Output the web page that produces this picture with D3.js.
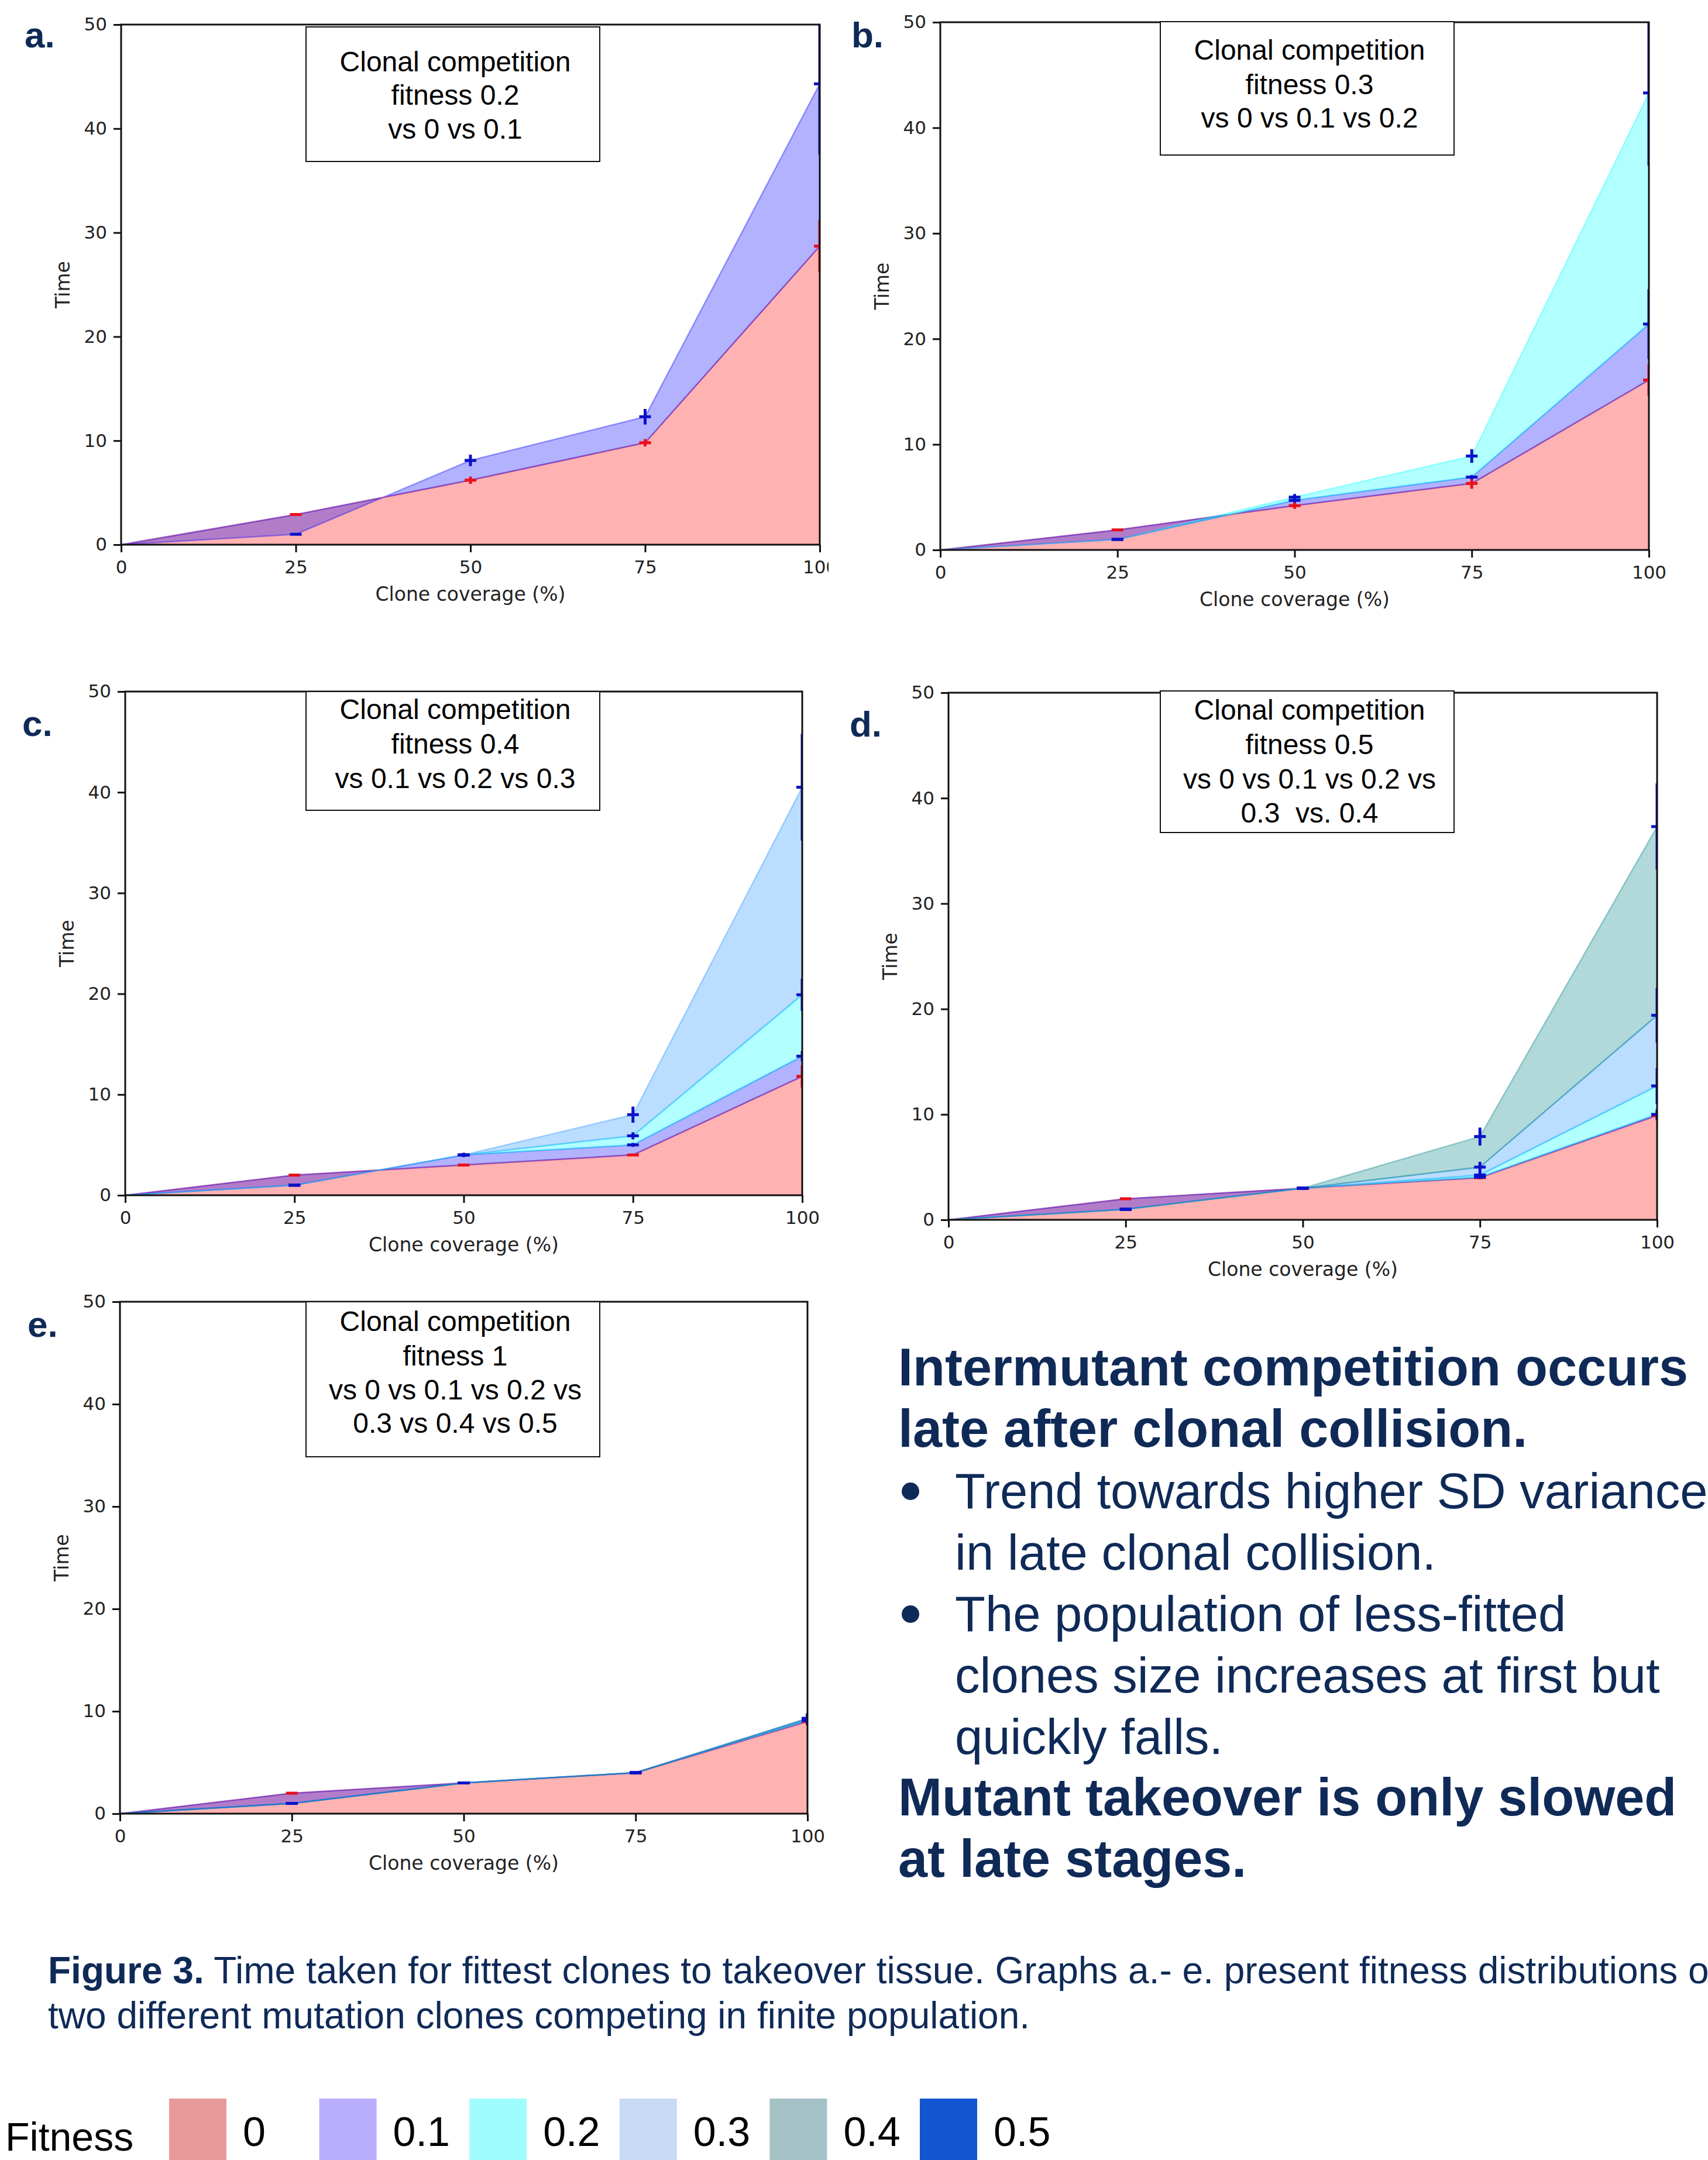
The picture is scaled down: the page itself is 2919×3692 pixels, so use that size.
<!DOCTYPE html>
<html>
<head>
<meta charset="utf-8">
<script src="https://cdn.jsdelivr.net/npm/d3@7"></script>
<style>
  html, body { margin: 0; padding: 0; background: #fff; }
  svg { display: block; }
</style>
</head>
<body>
<div id="wrapper"></div>
<script>
// x positions and axis ticks shared by every panel
const coverage = [0, 25, 50, 75, 100];
const yTicks = [0, 10, 20, 30, 40, 50];
const fitnessLevels = ["0", "0.1", "0.2", "0.3", "0.4", "0.5"];

// mean time per fitness series (rows follow fitnessLevels order)
const meansA = [
  [0, 2.9, 6.2, 9.8, 28.7],
  [0, 1.0, 8.1, 12.3, 44.3],
];
const sdA = [
  [0, 0.1, 0.35, 0.35, 2.5],
  [0, 0.1, 0.55, 0.75, 6.8],
];

const meansB = [
  [0, 1.9, 4.2, 6.3, 16.1],
  [0, 1.0, 4.7, 6.9, 21.4],
  [0, 1.0, 5.0, 8.9, 43.3],
];
const sdB = [
  [0, 0.1, 0.3, 0.5, 1.5],
  [0, 0.1, 0.2, 0.2, 3.3],
  [0, 0.1, 0.3, 0.65, 6.9],
];

const meansC = [
  [0, 2.0, 3.0, 4.0, 11.8],
  [0, 1.0, 4.0, 5.0, 13.8],
  [0, 1.0, 4.0, 5.9, 19.9],
  [0, 1.0, 4.0, 8.0, 40.5],
];
const sdC = [
  [0, 0.1, 0.1, 0.1, 1.1],
  [0, 0.1, 0.2, 0.2, 0.5],
  [0, 0.1, 0.2, 0.35, 1.6],
  [0, 0.1, 0.2, 0.8, 5.3],
];

const meansD = [
  [0, 2.0, 3.0, 4.0, 9.9],
  [0, 1.0, 3.0, 4.05, 10.0],
  [0, 1.0, 3.0, 4.25, 12.7],
  [0, 1.0, 3.0, 5.0, 19.4],
  [0, 1.0, 3.0, 7.9, 37.3],
];
const sdD = [
  [0, 0.1, 0.1, 0.15, 0.5],
  [0, 0.1, 0.1, 0.15, 0.5],
  [0, 0.1, 0.1, 0.3, 1.7],
  [0, 0.1, 0.1, 0.5, 2.6],
  [0, 0.1, 0.15, 0.85, 4.1],
];

const meansE = [
  [0, 2.0, 3.0, 4.0, 9.0],
  [0, 1.0, 3.0, 4.0, 9.1],
  [0, 1.0, 3.0, 4.0, 9.2],
  [0, 1.0, 3.0, 4.0, 9.2],
  [0, 1.0, 3.0, 4.0, 9.3],
  [0, 1.0, 3.0, 4.0, 9.3],
];
const sdE = [
  [0, 0.1, 0.1, 0.1, 0.4],
  [0, 0.1, 0.1, 0.1, 0.4],
  [0, 0.1, 0.1, 0.1, 0.5],
  [0, 0.1, 0.1, 0.1, 0.5],
  [0, 0.1, 0.1, 0.1, 0.5],
  [0, 0.1, 0.1, 0.1, 0.5],
];

const titleA = ["Clonal competition", "fitness 0.2", "vs 0 vs 0.1"];
const titleB = ["Clonal competition", "fitness 0.3", "vs 0 vs 0.1 vs 0.2"];
const titleC = ["Clonal competition", "fitness 0.4", "vs 0.1 vs 0.2 vs 0.3"];
const titleD = ["Clonal competition", "fitness 0.5", "vs 0 vs 0.1 vs 0.2 vs", "0.3  vs. 0.4"];
const titleE = ["Clonal competition", "fitness 1", "vs 0 vs 0.1 vs 0.2 vs", "0.3 vs 0.4 vs 0.5"];

const headlineTop = ["Intermutant competition occurs", "late after clonal collision."];
const bulletLines = [
  { text: "Trend towards higher SD variance", bullet: true },
  { text: "in late clonal collision.", bullet: false },
  { text: "The population of less-fitted", bullet: true },
  { text: "clones size increases at first but", bullet: false },
  { text: "quickly falls.", bullet: false },
];
const headlineBottom = ["Mutant takeover is only slowed", "at late stages."];
const captionBold = "Figure 3.";
const captionLines = [
  " Time taken for fittest clones to takeover tissue. Graphs a.- e. present fitness distributions of",
  "two different mutation clones competing in finite population.",
];

// styles
const fillColors = ["#ff0000", "#0000ff", "#00ffff", "#1e90ff", "#008080", "#1156d0"];
const legendColors = ["#e89a9a", "#b8aefc", "#a0fcfc", "#c8daf6", "#a4c2c6", "#1156d0"];
const navy = "#0f2a57";
const tickFont = "DejaVu Sans";
const textFont = "Liberation Sans, Arial, sans-serif";

const layout = {
  a: { x0: 207, x1: 1401, y0: 42, y1: 931, tag: [42, 81], box: [523, 46, 1025, 276], titleY: [122, 179, 237], clipX: 1416 },
  b: { x0: 1607, x1: 2818, y0: 38, y1: 940, tag: [1455, 81], box: [1983, 37, 2485, 265], titleY: [102, 161, 218] },
  c: { x0: 214, x1: 1371, y0: 1182, y1: 2043, tag: [38, 1258], box: [523, 1182, 1025, 1385], titleY: [1229, 1288, 1347] },
  d: { x0: 1621, x1: 2832, y0: 1184, y1: 2085, tag: [1452, 1259], box: [1983, 1181, 2485, 1423], titleY: [1230, 1289, 1348, 1406] },
  e: { x0: 205, x1: 1380, y0: 2225, y1: 3100, tag: [47, 2285], box: [523, 2225, 1025, 2490], titleY: [2275, 2334, 2392, 2449] },
};

const width = 2919, height = 3692;

const svg = d3.select("#wrapper").append("svg")
  .attr("width", width)
  .attr("height", height)
  .style("background", "#fff");

const defs = svg.append("defs");

function drawPanel(key, means, sds, titleLines) {
  const L = layout[key];
  const root = svg.append("g").attr("class", "panel-" + key);

  if (L.clipX) {
    defs.append("clipPath").attr("id", "page-clip-" + key)
      .append("rect").attr("x", 0).attr("y", 0).attr("width", L.clipX).attr("height", L.y1 + 200);
    root.attr("clip-path", `url(#page-clip-${key})`);
  }

  const xScale = d3.scaleLinear().domain([0, 100]).range([L.x0, L.x1]);
  const yScale = d3.scaleLinear().domain([0, 50]).range([L.y1, L.y0]);

  defs.append("clipPath").attr("id", "plot-clip-" + key)
    .append("rect")
    .attr("x", L.x0).attr("y", L.y0)
    .attr("width", L.x1 - L.x0).attr("height", L.y1 - L.y0);

  const plot = root.append("g").attr("clip-path", `url(#plot-clip-${key})`);

  // fill between consecutive series, like stacked fill_between with alpha
  means.forEach((series, k) => {
    const area = d3.area()
      .x((d, i) => xScale(coverage[i]))
      .y0((d, i) => yScale(k === 0 ? 0 : means[k - 1][i]))
      .y1(d => yScale(d));
    plot.append("path")
      .attr("d", area(series))
      .attr("fill", fillColors[k])
      .attr("fill-opacity", 0.3)
      .attr("stroke", fillColors[k])
      .attr("stroke-opacity", 0.35)
      .attr("stroke-width", 2.5)
      .attr("stroke-linejoin", "round");
  });

  // error bars
  means.forEach((series, k) => {
    const color = k === 0 ? "#e8101c" : "#0a12c8";
    const g = plot.append("g").attr("stroke", color).attr("stroke-width", 5);
    series.forEach((m, i) => {
      if (i === 0) return;
      const cx = xScale(coverage[i]);
      g.append("line")
        .attr("x1", cx).attr("x2", cx)
        .attr("y1", yScale(m - sds[k][i])).attr("y2", yScale(m + sds[k][i]));
      g.append("line")
        .attr("x1", cx - 10).attr("x2", cx + 10)
        .attr("y1", yScale(m)).attr("y2", yScale(m));
    });
  });

  // axes
  const yAxis = root.append("g")
    .attr("transform", `translate(${L.x0},0)`)
    .call(d3.axisLeft(yScale).tickValues(yTicks).tickSize(13).tickPadding(11));
  const xAxis = root.append("g")
    .attr("transform", `translate(0,${L.y1})`)
    .call(d3.axisBottom(xScale).tickValues(coverage).tickSize(13).tickPadding(14));
  [yAxis, xAxis].forEach(ax => {
    ax.select(".domain").remove();
    ax.selectAll(".tick line").attr("stroke", "#111").attr("stroke-width", 3);
    ax.selectAll(".tick text")
      .attr("fill", "#222")
      .style("font-family", tickFont)
      .style("font-size", "31px");
  });

  // frame (spines)
  root.append("rect")
    .attr("x", L.x0).attr("y", L.y0)
    .attr("width", L.x1 - L.x0).attr("height", L.y1 - L.y0)
    .attr("fill", "none")
    .attr("stroke", "#111")
    .attr("stroke-width", 3);

  root.append("text")
    .attr("transform", `translate(${L.x0 - 100},${(L.y0 + L.y1) / 2}) rotate(-90)`)
    .attr("text-anchor", "middle")
    .attr("dominant-baseline", "central")
    .attr("fill", "#222")
    .style("font-family", tickFont)
    .style("font-size", "33px")
    .text("Time");

  root.append("text")
    .attr("x", (L.x0 + L.x1) / 2)
    .attr("y", L.y1 + 84)
    .attr("text-anchor", "middle")
    .attr("dominant-baseline", "central")
    .attr("fill", "#222")
    .style("font-family", tickFont)
    .style("font-size", "33px")
    .text("Clone coverage (%)");

  // title box
  const [bx0, by0, bx1, by1] = L.box;
  root.append("rect")
    .attr("x", bx0).attr("y", by0)
    .attr("width", bx1 - bx0).attr("height", by1 - by0)
    .attr("fill", "#fff")
    .attr("stroke", "#111")
    .attr("stroke-width", 2);
  root.append("g").selectAll("text")
    .data(titleLines)
    .join("text")
    .attr("x", (bx0 + bx1) / 2 + 4)
    .attr("y", (d, i) => L.titleY[i])
    .attr("text-anchor", "middle")
    .attr("fill", "#000")
    .style("font-family", textFont)
    .style("font-size", "48px")
    .style("white-space", "pre")
    .text(d => d);

  // panel tag
  svg.append("text")
    .attr("x", L.tag[0]).attr("y", L.tag[1])
    .attr("fill", navy)
    .style("font-family", textFont)
    .style("font-weight", "bold")
    .style("font-size", "62px")
    .text(key + ".");
}

drawPanel("a", meansA, sdA, titleA);
drawPanel("b", meansB, sdB, titleB);
drawPanel("c", meansC, sdC, titleC);
drawPanel("d", meansD, sdD, titleD);
drawPanel("e", meansE, sdE, titleE);

// right-hand text block
const textX = 1535, firstBaseline = 2368, lineStep = 105;
const block = svg.append("g").attr("fill", navy).style("font-family", textFont);
const allLines = [
  ...headlineTop.map(t => ({ text: t, bold: true, bullet: false })),
  ...bulletLines.map(b => ({ text: b.text, bold: false, bullet: b.bullet })),
  ...headlineBottom.map(t => ({ text: t, bold: true, bullet: false })),
];
allLines.forEach((line, i) => {
  const y = firstBaseline + i * lineStep;
  if (line.bold) {
    block.append("text").attr("x", textX).attr("y", y)
      .style("font-weight", "bold").style("font-size", "90px").text(line.text);
  } else {
    block.append("text").attr("x", 1632).attr("y", y)
      .style("font-size", "85px").text(line.text);
    if (line.bullet) {
      block.append("circle").attr("cx", 1556).attr("cy", y - 29).attr("r", 15);
    }
  }
});

// caption (the first line runs past the right edge, as in the source figure)
const caption = svg.append("g").attr("fill", navy)
  .style("font-family", textFont).style("font-size", "64px");
const cap1 = caption.append("text").attr("x", 82).attr("y", 3390).style("white-space", "pre");
cap1.append("tspan").style("font-weight", "bold").text(captionBold);
cap1.append("tspan").text(captionLines[0]);
caption.append("text").attr("x", 82).attr("y", 3467).text(captionLines[1]);

// legend
const legend = svg.append("g").style("font-family", textFont).attr("fill", "#000");
legend.append("text").attr("x", 9).attr("y", 3676).style("font-size", "68px").text("Fitness");
const swatchScale = d3.scalePoint()
  .domain(fitnessLevels)
  .range([289, 289 + 5 * 256.6]);
legend.selectAll("rect.swatch")
  .data(fitnessLevels)
  .join("rect")
  .attr("class", "swatch")
  .attr("x", d => swatchScale(d))
  .attr("y", 3587)
  .attr("width", 98)
  .attr("height", height - 3587)
  .attr("fill", (d, i) => legendColors[i]);
legend.selectAll("text.lab")
  .data(fitnessLevels)
  .join("text")
  .attr("class", "lab")
  .attr("x", d => swatchScale(d) + 98 + 28)
  .attr("y", 3668)
  .style("font-size", "70px")
  .text(d => d);
</script>
</body>
</html>
